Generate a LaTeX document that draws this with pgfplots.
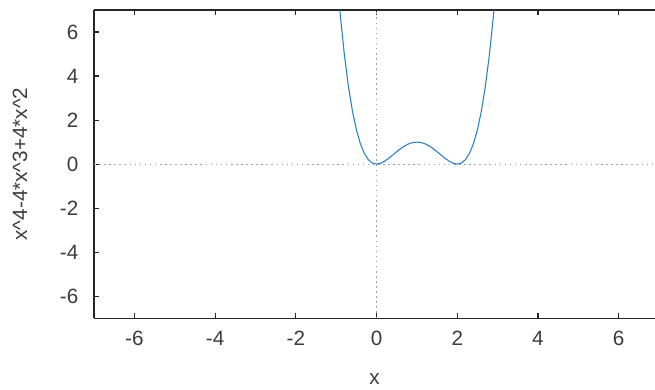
\documentclass[border=0pt]{standalone}
\usepackage{pgfplots}
\pgfplotsset{compat=1.18}
\usepackage{fontspec}
\setmainfont{Liberation Sans}
\usetikzlibrary{calc}
\definecolor{curve}{RGB}{40,128,200}
\definecolor{txt}{RGB}{60,60,60}
\begin{document}
\begin{tikzpicture}
\begin{axis}[
  scale only axis,
  width=420.5pt, height=231pt,
  xmin=-7, xmax=6.9, ymin=-7, ymax=7,
  axis x line*=box, axis y line*=left,
  axis line style={black!85, line width=0.9pt},
  xtick={-6,-4,-2,0,2,4,6}, ytick={-6,-4,-2,0,2,4,6},
  tick align=inside, major tick length=3.5pt,
  tick style={black!85, line width=0.8pt},
  /pgf/number format/assume math mode=true,
  tick label style={font=\fontsize{15.5}{18}\selectfont, text=txt},
  xticklabel style={yshift=-6.5pt},
  yticklabel style={xshift=-8.3pt},
  xlabel={x}, ylabel={x\^{}4-4*x\^{}3+4*x\^{}2},
  label style={font=\fontsize{15.5}{18}\selectfont, text=txt},
  xlabel style={at={(rel axis cs:0.5,0)}, anchor=center, yshift=-45.5pt},
  ylabel style={at={(rel axis cs:0,0.5)}, anchor=center, rotate=0, xshift=0pt, yshift=55.5pt},
  clip=true,
]
\addplot[gray!75, line width=0.6pt, dash pattern=on 1.2pt off 2.6pt] coordinates {(-7,0) (6.9,0)};
\addplot[gray!75, line width=0.6pt, dash pattern=on 1.2pt off 2.6pt] coordinates {(0,-7) (0,7)};
\addplot[curve, line width=0.8pt] coordinates {
(-0.92,7.217) (-0.9,6.8121) (-0.8,5.0176) (-0.7,3.5721) (-0.6,2.4336) (-0.5,1.5625)
(-0.4,0.9216) (-0.3,0.4761) (-0.2,0.1936) (-0.1,0.0441) (0,0)
(0.1,0.0361) (0.2,0.1296) (0.3,0.2601) (0.4,0.4096) (0.5,0.5625)
(0.6,0.7056) (0.7,0.8281) (0.8,0.9216) (0.9,0.9801) (1.0,1.0)
(1.1,0.9801) (1.2,0.9216) (1.3,0.8281) (1.4,0.7056) (1.5,0.5625)
(1.6,0.4096) (1.7,0.2601) (1.8,0.1296) (1.9,0.0361) (2.0,0)
(2.1,0.0441) (2.2,0.1936) (2.3,0.4761) (2.4,0.9216) (2.5,1.5625)
(2.6,2.4336) (2.7,3.5721) (2.8,5.0176) (2.9,6.8121) (2.92,7.217)
};
\end{axis}
\pgfresetboundingbox
\path ($(current axis.south west)+(-70.5pt,-53.5pt)$) rectangle ($(current axis.north east)+(0pt,7.5pt)$);
\end{tikzpicture}
\end{document}
